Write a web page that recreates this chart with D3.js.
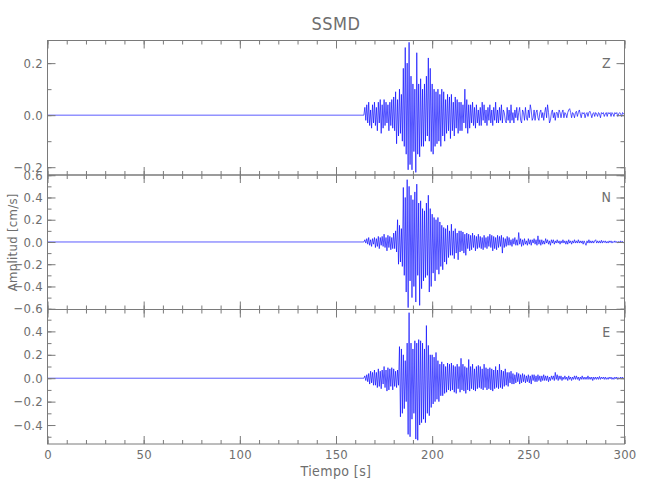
<!DOCTYPE html>
<html>
<head>
<meta charset="utf-8">
<script src="https://cdn.jsdelivr.net/npm/d3@7"></script>
<style>
body{margin:0;background:#fff}
text{font-family:"DejaVu Sans Condensed","Liberation Sans Narrow",sans-serif;fill:#6e6e6e}
</style>
</head>
<body>
<div class="visHolder"></div>
<script>
// station + components
const stationName="SSMD";
const components=["Z","N","E"];
const xTicks=[0,50,100,150,200,250,300];
const yTicksZ=[-0.2,0,0.2],
      yTicksN=[-0.6,-0.4,-0.2,0,0.2,0.4,0.6],
      yTicksE=[-0.4,-0.2,0,0.2,0.4];
const rangeZ=[-0.23,0.287],rangeN=[-0.607,0.602],rangeE=[-0.562,0.587];

// trace is flat (0) from t=0 up to tStart, then one sample every dt seconds
const tStart=164,dt=0.5;
const ampZ=[0,0,
.03,-.02,.04,-.03,.05,-.04,.02,-.05,.04,-.03,
.05,-.04,.03,-.06,.05,-.03,.06,-.07,.04,-.05,
.06,-.04,.05,-.03,.04,-.06,.05,-.04,.06,-.05,
.07,-.06,.09,-.11,.06,-.08,.1,-.07,.08,-.1,
.18,-.12,.26,-.15,.2,-.21,.28,-.19,.15,-.21,
.12,-.14,.1,-.22,.24,-.15,.12,-.16,.14,-.12,
.1,-.12,.12,-.1,.15,-.08,.22,-.1,.18,-.14,
.12,-.15,.1,-.12,.09,-.11,.1,-.1,.08,-.12,
.1,-.08,.09,-.1,.06,-.07,.08,-.06,.07,-.09,
.08,-.06,.05,-.08,.07,-.05,.06,-.07,.05,-.06,
.05,-.06,.04,-.03,.1,-.05,.06,-.07,.04,-.05,
.04,-.03,.05,-.04,.03,-.05,.04,-.03,.02,-.04,
.03,-.04,.05,-.02,.04,-.03,.02,-.04,.03,-.02,
.04,-.03,.02,-.04,.03,-.02,.05,-.03,.02,-.03,
.03,-.02,.04,-.03,.02,.01,-.02,-.03,.03,-.02,
.02,-.03,.04,-.02,.01,-.03,.02,-.01,.03,-.02,
.01,.03,-.02,-.03,.02,.01,-.02,.03,-.01,-.02,
.02,-.01,.04,.02,-.02,-.01,.02,-.02,.01,.02,
-.01,-.02,.01,.02,-.01,.01,-.02,.01,.03,-.01,
.04,.01,-.03,-.02,.01,.02,-.01,.01,-.02,.01,
.01,-.01,.02,.01,-.01,.01,.02,-.01,.01,.005,
-.01,.01,.02,.025,.01,-.01,.01,.005,-.01,.01,
.015,-.005,.01,.02,.005,-.01,.01,.005,.01,-.01,
.005,.01,-.005,.01,.015,.005,-.01,.005,.01,-.005,
.01,.005,-.005,.01,.005,-.01,.01,.005,.01,-.005,
.005,.01,-.005,.01,.005,.01,-.005,.01,.005,-.005,
.01,.005,.01,-.005,.005,.01,.005,-.005,.01,.005,
.005];
const ampN=[0,0,
.02,-.01,.03,-.02,.04,-.03,.02,-.04,.03,-.02,
.04,-.05,.03,-.04,.05,-.06,.04,-.03,.05,-.04,
.07,-.05,.04,-.08,.06,-.05,.05,-.07,.04,-.06,
.08,-.06,.1,-.09,.2,-.2,.15,-.18,.12,-.22,
.49,-.3,.4,-.45,.56,-.59,.5,-.35,.42,-.5,
.38,-.4,.45,-.54,.52,-.3,.35,-.57,.37,-.42,
.3,-.35,.28,-.32,.35,-.3,.42,-.45,.3,-.4,
.25,-.28,.22,-.35,.2,-.25,.22,-.29,.18,-.22,
.15,-.25,.13,-.18,.12,-.2,.15,-.14,.1,-.12,
.16,-.12,.1,-.15,.12,-.1,.08,-.16,.1,-.09,
.1,-.08,.09,-.1,.07,-.12,.08,-.06,.07,-.08,
.06,-.07,.08,-.05,.06,-.08,.05,-.06,.07,-.05,
.05,-.06,.04,-.07,.06,-.05,.04,-.06,.05,-.04,
.07,-.05,.06,-.08,.05,-.06,.04,-.07,.06,-.05,
.05,-.04,.06,-.1,.04,-.05,.03,-.04,.05,-.03,
.04,-.03,.02,-.04,.03,-.02,.04,-.03,.02,-.03,
.085,-.02,.03,-.04,.02,-.03,.03,-.02,.01,-.03,
.03,-.02,.02,-.03,.02,-.01,.03,-.02,.02,-.03,
.055,-.02,.02,-.03,.02,-.02,.01,-.02,.03,-.01,
.02,-.02,.01,-.03,.02,-.01,.02,-.02,.01,-.01,
.02,-.01,.01,-.02,.01,-.01,.02,-.01,.01,-.02,
.01,-.02,.02,-.01,.01,-.02,.01,-.01,.02,-.01,
.01,-.01,.02,-.01,.01,-.01,.01,-.02,.01,-.01,
-.03,.01,-.01,.02,-.01,.01,-.01,.01,-.01,.01,
.02,-.01,.01,-.01,.01,-.01,.015,-.01,.01,-.005,
.01,-.01,.005,-.01,.01,-.005,.01,-.01,.005,-.005,
.01,-.005,.005,-.01,.005,-.005,.01,-.005,.005,-.01,
0];
const ampE=[0,0,
.02,-.02,.03,-.03,.04,-.05,.06,-.04,.05,-.06,
.07,-.06,.05,-.08,.08,-.07,.06,-.09,.07,-.05,
.1,-.08,.07,-.11,.09,-.1,.08,-.07,.09,-.1,
.08,-.07,.06,-.08,.07,-.06,.27,-.33,.25,-.3,
.2,-.26,.15,-.2,.3,-.48,.56,-.5,.3,-.35,
.25,-.3,.32,-.52,.3,-.53,.33,-.4,.32,-.38,
.3,-.35,.25,-.38,.45,-.3,.28,-.32,.2,-.25,
.2,-.22,.18,-.2,.22,-.18,.15,-.2,.12,-.15,
.14,-.15,.12,-.13,.1,-.12,.13,-.1,.12,-.11,
.13,-.1,.11,-.12,.1,-.13,.12,-.09,.1,-.12,
.17,-.1,.12,-.11,.1,-.13,.09,-.1,.16,-.11,
.1,-.09,.12,-.1,.08,-.11,.1,-.09,.11,-.08,
.1,-.09,.08,-.1,.12,-.08,.09,-.1,.08,-.09,
.09,-.1,.08,-.11,.07,-.09,.1,-.08,.07,-.09,
.12,-.08,.07,-.09,.06,-.07,.08,-.06,.05,-.07,
.05,-.04,.06,-.05,.04,-.05,.03,-.04,.05,-.03,
.04,-.05,.03,-.04,.04,-.03,.03,-.04,.02,-.03,
.03,-.04,.02,-.05,.03,-.02,.03,-.03,.02,-.03,
.03,-.02,.02,-.03,.02,-.02,.03,-.02,.02,-.02,
.02,-.03,.01,-.02,.02,-.01,.02,-.02,.05,-.01,
.03,-.02,.02,-.01,.02,-.02,.01,-.01,.02,-.01,
.01,-.02,.02,-.01,.01,-.02,.01,-.01,.02,-.01,
.02,-.01,.01,-.02,.01,-.01,.02,-.01,.01,-.01,
.01,-.01,.02,-.01,.01,-.01,.01,-.02,.01,-.01,
.01,-.01,.01,-.01,.015,-.01,.01,-.005,.01,-.01,
.01,-.01,.005,-.01,.01,-.005,.01,-.01,.005,-.01,
.01,-.005,.01,-.01,.005,-.005,.01,-.005,.01,-.005,
0];

const w=650,h=500,plotL=47.5,plotR=624.5,plotT=40.5,panelH=134.5;
const axisColor="#7a7a7a";

const svg=d3.select(".visHolder").append("svg")
  .attr("width",w).attr("height",h);

const xScale=d3.scaleLinear().domain([0,300]).range([plotL,plotR]);
const fmt=d3.format(".1f");

const panels=[
  {name:components[0],amp:ampZ,range:rangeZ,ticks:yTicksZ},
  {name:components[1],amp:ampN,range:rangeN,ticks:yTicksN},
  {name:components[2],amp:ampE,range:rangeE,ticks:yTicksE}
];

function styleAxis(g){
  g.select(".domain").remove();
  g.selectAll("line").attr("stroke",axisColor);
  g.selectAll("text").attr("fill","#6e6e6e").style("font-size","13px").style("letter-spacing","0.3px");
}

panels.forEach((p,i)=>{
  const y0=plotT+i*panelH, y1=y0+panelH;
  const yScale=d3.scaleLinear().domain(p.range).range([y1,y0]);
  const minorY=d3.range(-0.6,0.61,0.1).map(v=>+v.toFixed(1))
    .filter(v=>v>=p.range[0]-0.005&&v<=p.range[1]+0.005);
  const minorX=d3.range(0,301,10);

  svg.append("clipPath").attr("id","clip"+i)
    .append("rect").attr("x",plotL).attr("y",y0).attr("width",plotR-plotL).attr("height",panelH);

  // trace
  const pts=[[0,0]].concat(p.amp.map((v,j)=>[tStart+j*dt,v]));
  const line=d3.line().x(d=>xScale(d[0])).y(d=>yScale(d[1]));
  svg.append("path")
    .datum(pts)
    .attr("clip-path","url(#clip"+i+")")
    .attr("d",line)
    .attr("fill","none")
    .attr("stroke","#0000ff")
    .attr("stroke-width",0.65)
    .attr("stroke-linejoin","round");

  // y axes (left labelled, right mirrored)
  const yTickVals=p.ticks.filter(v=>v>=p.range[0]-0.008&&v<=p.range[1]+0.008);
  svg.append("g").attr("transform","translate("+plotL+",0)")
    .call(d3.axisLeft(yScale).tickValues(yTickVals).tickFormat(fmt).tickSize(-8).tickPadding(4.5))
    .call(styleAxis);
  svg.append("g").attr("transform","translate("+plotL+",0)")
    .call(d3.axisLeft(yScale).tickValues(minorY).tickFormat("").tickSize(-4))
    .call(styleAxis);
  svg.append("g").attr("transform","translate("+plotR+",0)")
    .call(d3.axisRight(yScale).tickValues(yTickVals).tickFormat("").tickSize(-8))
    .call(styleAxis);
  svg.append("g").attr("transform","translate("+plotR+",0)")
    .call(d3.axisRight(yScale).tickValues(minorY).tickFormat("").tickSize(-4))
    .call(styleAxis);

  // x axes (top + bottom of every panel)
  svg.append("g").attr("transform","translate(0,"+y0+")")
    .call(d3.axisTop(xScale).tickValues(xTicks).tickFormat("").tickSize(-8))
    .call(styleAxis);
  svg.append("g").attr("transform","translate(0,"+y0+")")
    .call(d3.axisTop(xScale).tickValues(minorX).tickFormat("").tickSize(-4))
    .call(styleAxis);
  svg.append("g").attr("transform","translate(0,"+y1+")")
    .call(d3.axisBottom(xScale).tickValues(xTicks)
      .tickFormat(i===panels.length-1?d3.format("d"):"").tickSize(-8).tickPadding(6))
    .call(styleAxis);
  svg.append("g").attr("transform","translate(0,"+y1+")")
    .call(d3.axisBottom(xScale).tickValues(minorX).tickFormat("").tickSize(-4))
    .call(styleAxis);

  // frame
  svg.append("rect")
    .attr("x",plotL).attr("y",y0).attr("width",plotR-plotL).attr("height",panelH)
    .attr("fill","none").attr("stroke",axisColor).attr("stroke-width",1);

  svg.append("text")
    .attr("x",xScale(290.5)).attr("y",y0+27)
    .attr("text-anchor","middle")
    .style("font-size","14px")
    .text(p.name);
});

svg.append("text")
  .attr("x",(plotL+plotR)/2).attr("y",30)
  .attr("text-anchor","middle")
  .style("font-size","18px").style("letter-spacing","0.5px")
  .text(stationName);

svg.append("text")
  .attr("x",(plotL+plotR)/2).attr("y",476)
  .attr("text-anchor","middle")
  .style("font-size","14px").style("letter-spacing","0.4px")
  .text("Tiempo [s]");

svg.append("text")
  .attr("transform","rotate(-90)")
  .attr("x",-(plotT+1.5*panelH)).attr("y",17)
  .attr("text-anchor","middle")
  .style("font-size","13px").style("letter-spacing","0.3px")
  .text("Amplitud [cm/s]");
</script>
</body>
</html>
